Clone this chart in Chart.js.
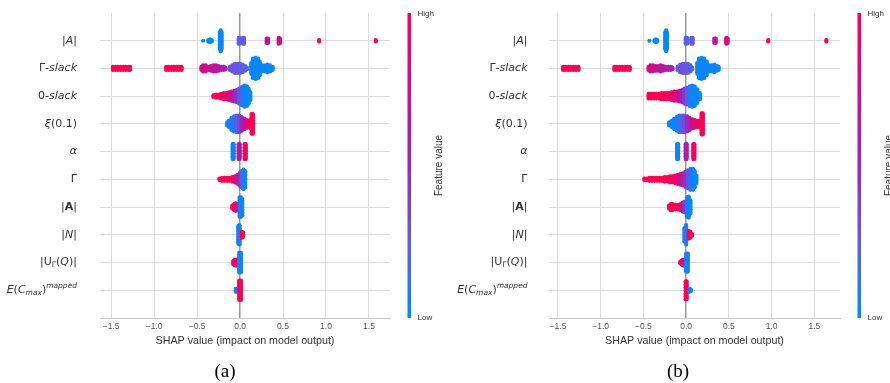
<!DOCTYPE html>
<html>
<head>
<meta charset="utf-8">
<title>SHAP summary</title>
<script src="https://cdn.jsdelivr.net/npm/chart.js@4.4.1/dist/chart.umd.min.js"></script>
<style>
  body { margin: 0; background: #fff; }
  #wrap { position: relative; width: 890px; height: 383px; }
  #wrap canvas { position: absolute; top: 0; }
</style>
</head>
<body>
<div id="wrap">
  <canvas id="panelA" width="445" height="383" style="left:0"></canvas>
  <canvas id="panelB" width="445" height="383" style="left:445px"></canvas>
</div>
<script>
// ─── Data ──────────────────────────────────────────────────────────────────
// Feature names, top to bottom. Each segment: [text, style]
const FEATURE_LABELS = [
  [['|', 'n'], ['A', 'i'], ['|', 'n']],
  [['Γ', 'n'], ['-slack', 'i']],
  [['0', 'n'], ['-slack', 'i']],
  [['ξ', 'i'], ['(0.1)', 'n']],
  [['α', 'i']],
  [['Γ', 'n']],
  [['|', 'n'], ['A', 'b'], ['|', 'n']],
  [['|', 'n'], ['N', 'i'], ['|', 'n']],
  [['|U', 'n'], ['Γ', 'sub'], ['(', 'n'], ['Q', 'i'], [')|', 'n']],
  [['E', 'i'], ['(', 'n'], ['C', 'i'], ['max', 'subi'], [')', 'n'], ['mapped', 'supi']],
];

const X_TICKS = [-1.5, -1.0, -0.5, 0.0, 0.5, 1.0, 1.5];
const X_TITLE = 'SHAP value (impact on model output)';

// Swarm columns per feature: [SHAP value, dots stacked, feature value 0..1]
// Panel (a)
const A_modA = [[-0.43,1,0],[-0.37,2,0],[-0.35,3,0],[-0.33,2,0],[-0.235,12,0.02],[-0.225,15,0.02],[-0.215,12,0.02],
  [-0.015,5,0.22],[-0.005,5,0.22],[0.035,5,0.25],[0.045,5,0.25],[0.31,4,0.7],[0.325,4,0.7],[0.45,5,0.82],[0.465,4,0.82],[0.92,2,1],[1.58,2,1]];
const A_gammaSlack = [[-1.48,3,1],[-1.45,3,1],[-1.42,3,1],[-1.39,3,1],[-1.36,3,1],[-1.33,3,1],[-1.30,3,1],[-1.28,3,1],
  [-0.86,3,1],[-0.83,3,1],[-0.80,3,1],[-0.77,3,1],[-0.74,3,1],[-0.71,3,1],[-0.68,3,1],
  [-0.45,3,0.78],[-0.43,5,0.77],[-0.40,5,0.75],[-0.37,3,0.72],[-0.34,4,0.7],[-0.31,5,0.68],[-0.28,5,0.66],[-0.25,4,0.64],[-0.22,3,0.62],[-0.19,3,0.6],[-0.17,2,0.58],
  [-0.12,3,0.3],[-0.09,5,0.28],[-0.06,7,0.27],[-0.03,7,0.26],[0.0,7,0.25],[0.03,6,0.24],[0.06,4,0.22],[0.08,2,0.2],
  [0.13,8,0.03],[0.15,14,0.02],[0.18,15,0.02],[0.21,14,0.02],[0.23,10,0.02],[0.26,5,0.02],[0.29,5,0.02],[0.32,6,0.02],[0.35,5,0.02],[0.38,3,0.02]];
const A_zeroSlack = [[-0.31,2,1],[-0.28,3,1],[-0.25,3,0.98],[-0.22,4,0.95],[-0.19,5,0.92],[-0.16,5,0.88],[-0.13,6,0.82],[-0.10,7,0.72],
  [-0.07,8,0.6],[-0.04,9,0.45],[-0.01,11,0.3],[0.02,13,0.15],[0.05,15,0.05],[0.08,14,0.02],[0.10,11,0],[0.12,6,0]];
const A_xi = [[-0.15,3,0.05],[-0.13,5,0.03],[-0.10,9,0.05],[-0.07,11,0.1],[-0.04,12,0.2],[-0.01,12,0.35],[0.02,10,0.5],
  [0.05,8,0.65],[0.08,6,0.8],[0.10,5,0.9],[0.12,6,0.95],[0.135,14,1],[0.15,14,1]];
const A_alpha = [[-0.086,11,0.02],[-0.074,11,0.02],[-0.016,11,0.6],[-0.004,11,0.6],[0.054,11,0.95],[0.066,11,0.95]];
const A_gamma = [[-0.24,2,1],[-0.21,3,1],[-0.18,3,1],[-0.15,3,1],[-0.12,3,1],[-0.09,4,0.97],[-0.06,5,0.9],[-0.03,7,0.7],
  [0.0,10,0.45],[0.02,12,0.25],[0.04,14,0.08],[0.06,12,0.02]];
const A_boldA = [[-0.09,3,1],[-0.07,5,1],[-0.05,6,0.95],[-0.03,5,0.8],[-0.005,14,0.05],[0.01,14,0.03],[0.025,12,0.02]];
const A_N = [[-0.02,13,0.05],[-0.005,14,0.05],[0.02,5,0.95],[0.035,4,1]];
const A_U = [[-0.08,3,1],[-0.06,5,1],[-0.04,5,0.9],[-0.01,14,0.05],[0.01,14,0.03]];
const A_E = [[-0.05,3,0.05],[-0.035,3,0.1],[-0.01,14,1],[0.01,14,1]];

// Panel (b)
const B_modA = [[-0.43,1,0],[-0.37,2,0],[-0.355,3,0],[-0.34,2,0],[-0.245,12,0.02],[-0.235,15,0.02],[-0.225,12,0.02],
  [-0.005,5,0.22],[0.01,5,0.22],[0.06,5,0.25],[0.075,5,0.25],[0.33,4,0.7],[0.345,4,0.7],[0.47,5,0.82],[0.485,4,0.82],[0.96,2,1],[1.64,2,1]];
const B_gammaSlack = [[-1.44,3,1],[-1.41,3,1],[-1.38,3,1],[-1.35,3,1],[-1.32,3,1],[-1.29,3,1],[-1.26,3,1],
  [-0.84,3,1],[-0.81,3,1],[-0.78,3,1],[-0.75,3,1],[-0.72,3,1],[-0.69,3,1],[-0.66,3,1],
  [-0.44,3,0.78],[-0.42,5,0.77],[-0.39,5,0.75],[-0.36,4,0.72],[-0.33,4,0.7],[-0.30,5,0.68],[-0.27,4,0.66],[-0.24,3,0.64],[-0.21,3,0.62],[-0.18,3,0.6],[-0.16,2,0.58],
  [-0.10,3,0.3],[-0.07,6,0.28],[-0.04,7,0.27],[-0.01,7,0.26],[0.02,7,0.25],[0.05,5,0.23],[0.07,2,0.2],
  [0.13,8,0.03],[0.15,14,0.02],[0.18,15,0.02],[0.21,14,0.02],[0.24,10,0.02],[0.27,5,0.02],[0.30,5,0.02],[0.33,6,0.02],[0.36,4,0.02],[0.38,3,0.02]];
const B_zeroSlack = [[-0.44,4,1],[-0.41,4,1],[-0.38,4,1],[-0.35,4,1],[-0.32,4,1],[-0.29,5,1],[-0.26,5,1],[-0.23,5,0.98],[-0.20,5,0.96],
  [-0.17,6,0.92],[-0.14,7,0.87],[-0.11,7,0.8],[-0.08,8,0.7],[-0.05,9,0.55],[-0.02,11,0.4],[0.01,12,0.25],[0.04,14,0.1],
  [0.07,15,0.03],[0.10,14,0],[0.13,10,0],[0.16,5,0]];
const B_xi = [[-0.20,3,0.02],[-0.17,5,0.02],[-0.14,8,0.03],[-0.11,10,0.05],[-0.08,12,0.1],[-0.05,12,0.2],[-0.02,12,0.3],
  [0.01,11,0.45],[0.04,9,0.6],[0.07,7,0.72],[0.10,6,0.82],[0.13,5,0.9],[0.16,5,0.95],[0.18,15,1],[0.195,15,1]];
const B_alpha = [[-0.106,11,0.02],[-0.094,11,0.02],[-0.006,11,0.6],[0.006,11,0.6],[0.084,11,0.95],[0.096,11,0.95]];
const B_gamma = [[-0.49,2,1],[-0.46,2,1],[-0.43,3,1],[-0.40,3,1],[-0.37,3,1],[-0.34,3,1],[-0.31,3,1],[-0.28,3,1],[-0.25,4,1],
  [-0.22,4,1],[-0.19,5,0.98],[-0.16,5,0.95],[-0.13,6,0.9],[-0.10,7,0.85],[-0.07,8,0.75],[-0.04,9,0.6],[-0.01,11,0.45],
  [0.02,13,0.3],[0.05,15,0.12],[0.08,15,0.03],[0.10,12,0],[0.12,6,0]];
const B_boldA = [[-0.20,3,1],[-0.18,5,1],[-0.16,5,1],[-0.13,4,1],[-0.10,4,0.95],[-0.07,5,0.9],[-0.04,7,0.7],[-0.02,8,0.4],
  [0.01,14,0.05],[0.03,15,0.02],[0.05,10,0]];
const B_N = [[-0.02,10,0.05],[0.0,14,0.08],[0.03,6,0.9],[0.05,5,1],[0.07,2,1]];
const B_U = [[-0.07,2,1],[-0.05,4,1],[-0.03,5,0.9],[0.0,13,0.05],[0.02,13,0.03]];
const B_E = [[-0.005,13,1],[0.005,13,1],[0.04,3,0.02],[0.055,2,0.02]];

const ROWS_A = [A_modA, A_gammaSlack, A_zeroSlack, A_xi, A_alpha, A_gamma, A_boldA, A_N, A_U, A_E];
const ROWS_B = [B_modA, B_gammaSlack, B_zeroSlack, B_xi, B_alpha, B_gamma, B_boldA, B_N, B_U, B_E];

// ─── Styling ───────────────────────────────────────────────────────────────
const CMAP = [[0, [0, 139, 251]], [0.25, [100, 90, 228]], [0.5, [150, 40, 190]], [0.75, [206, 14, 138]], [1, [255, 0, 82]]];
const DOT_STEP = 0.054;   // vertical spacing of stacked dots, in row units
const LABEL_FONT = 'DejaVu Sans';
const SANS = 'Liberation Sans';

function featureColor(t) {
  for (let i = 1; i < CMAP.length; i++) {
    if (t <= CMAP[i][0]) {
      const [t0, c0] = CMAP[i - 1], [t1, c1] = CMAP[i];
      const f = (t - t0) / (t1 - t0);
      const c = c0.map((v, k) => Math.round(v + (c1[k] - v) * f));
      return `rgb(${c[0]},${c[1]},${c[2]})`;
    }
  }
  return 'rgb(255,0,82)';
}

// Stack each column's dots around its feature row
function swarm(rows) {
  const pts = [], colors = [];
  rows.forEach((cols, r) => cols.forEach(([x, n, c]) => {
    for (let k = 0; k < n; k++) {
      pts.push({ x, y: r + (k - (n - 1) / 2) * DOT_STEP });
      colors.push(featureColor(c));
    }
  }));
  return { pts, colors };
}

function segFont(st) {
  switch (st) {
    case 'i': return `oblique 11px "${LABEL_FONT}"`;
    case 'b': return `bold 11px "${LABEL_FONT}"`;
    case 'sub': return `7.5px "${LABEL_FONT}"`;
    case 'subi':
    case 'supi': return `oblique 7.5px "${LABEL_FONT}"`;
    default: return `11px "${LABEL_FONT}"`;
  }
}
function segShift(st) {
  if (st === 'sub' || st === 'subi') return 3;
  if (st === 'supi') return -4.5;
  return 0;
}

// Feature names, colour bar and panel caption
const shapDecor = {
  id: 'shapDecor',
  afterDraw(chart, args, opts) {
    const { ctx, chartArea: a } = chart;
    const yScale = chart.scales.y;
    ctx.save();
    ctx.fillStyle = '#333';
    ctx.textBaseline = 'middle';
    ctx.textAlign = 'left';
    FEATURE_LABELS.forEach((segs, i) => {
      const y = yScale.getPixelForValue(i);
      let w = 0;
      segs.forEach(([t, st]) => { ctx.font = segFont(st); w += ctx.measureText(t).width; });
      let x = a.left - opts.labelGap - w;
      segs.forEach(([t, st]) => {
        ctx.font = segFont(st);
        ctx.fillText(t, x, y + segShift(st));
        x += ctx.measureText(t).width;
      });
    });

    // colour bar
    const bx = a.right + 17.5, bw = 3.5;
    const g = ctx.createLinearGradient(0, a.bottom, 0, a.top);
    CMAP.forEach(([t, c]) => g.addColorStop(t, `rgb(${c[0]},${c[1]},${c[2]})`));
    ctx.fillStyle = g;
    ctx.fillRect(bx, a.top, bw, a.bottom - a.top);

    ctx.fillStyle = '#333';
    ctx.font = `8px "${SANS}"`;
    ctx.fillText('High', bx + bw + 6.5, a.top + 1);
    ctx.fillText('Low', bx + bw + 6.5, a.bottom);

    ctx.save();
    ctx.translate(a.right + 49, (a.top + a.bottom) / 2);
    ctx.rotate(-Math.PI / 2);
    ctx.textAlign = 'center';
    ctx.font = `10px "${SANS}"`;
    ctx.fillText('Feature value', 0, 0);
    ctx.restore();

    // caption
    ctx.fillStyle = '#000';
    ctx.textAlign = 'center';
    ctx.font = '19px "Liberation Serif"';
    ctx.fillText(opts.caption, opts.captionX, 372);
    ctx.restore();
  }
};

function makePanel(id, rows, xMin, xMax, padLeft, padRight, caption, captionX, labelGap) {
  const { pts, colors } = swarm(rows);
  return new Chart(document.getElementById(id), {
    type: 'scatter',
    data: {
      datasets: [{
        data: pts,
        pointRadius: 2.1,
        pointHoverRadius: 2.1,
        pointBorderWidth: 0,
        pointBackgroundColor: colors,
      }],
    },
    options: {
      responsive: false,
      animation: false,
      events: [],
      layout: { padding: { left: padLeft, right: padRight, top: 13, bottom: 36 } },
      plugins: {
        legend: { display: false },
        tooltip: { enabled: false },
        shapDecor: { caption, captionX, labelGap },
      },
      scales: {
        x: {
          type: 'linear',
          min: xMin,
          max: xMax,
          afterBuildTicks: s => { s.ticks = X_TICKS.map(v => ({ value: v })); },
          afterFit: s => { s.height = 29; },
          ticks: {
            callback: v => (v < 0 ? '\u2212' : '') + Math.abs(v).toFixed(1),
            font: { family: SANS, size: 8.5 },
            color: '#555',
            padding: 4,
            maxRotation: 0,
            autoSkip: false,
          },
          grid: {
            color: c => (c.tick && c.tick.value === 0 ? '#9a9a9a' : '#dcdcdc'),
            lineWidth: c => (c.tick && c.tick.value === 0 ? 1.5 : 1),
            drawTicks: false,
          },
          border: { color: '#cccccc', width: 1 },
          title: {
            display: true,
            text: X_TITLE,
            font: { family: SANS, size: 10.7 },
            color: '#333',
            padding: { top: 0, bottom: 0 },
          },
        },
        y: {
          type: 'linear',
          reverse: true,
          min: -1,
          max: 10,
          afterBuildTicks: s => { s.ticks = FEATURE_LABELS.map((_, i) => ({ value: i })); },
          afterFit: s => { s.width = 0; },
          ticks: { display: false },
          grid: { color: '#dcdcdc', drawTicks: false },
          border: { display: false },
        },
      },
    },
    plugins: [shapDecor],
  });
}

makePanel('panelA', ROWS_A, -1.63, 1.745, 100, 55, '(a)', 225, 23);
makePanel('panelB', ROWS_B, -1.605, 1.80, 104, 50, '(b)', 233, 21.5);
</script>
</body>
</html>
